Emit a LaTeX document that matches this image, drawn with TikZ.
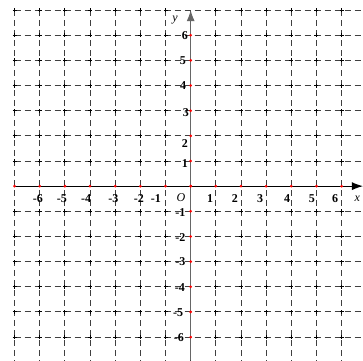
\documentclass[tikz,border=0pt]{standalone}
\usepackage{fontspec}
\setmainfont{Liberation Serif}
\usetikzlibrary{arrows.meta}
\begin{document}
\begin{tikzpicture}[x=25.15pt,y=25.15pt,
  gridline/.style={draw=black!75, line width=0.9pt, dash pattern=on 6pt off 4pt},
  crossmark/.style={draw=black, line width=0.9pt},
  lbl/.style={font=\fontsize{12}{13}\selectfont\bfseries, inner sep=0pt},
  axlbl/.style={font=\fontsize{12}{13}\selectfont\itshape, inner sep=0pt},
  reddot/.style={fill=red, draw=none},
  axisarrow/.style={-{Latex[length=11pt,width=8pt]}}]
\useasboundingbox (-7.58,-6.92) rectangle (6.85,7.40);
\fill[white] (-7.58,-6.92) rectangle (6.85,7.40);
% grid
\foreach \i in {-7,...,6} \draw[gridline] (\i,7) -- (\i,-6.92);
\foreach \j in {-6,...,7} \draw[gridline] (-7,\j) -- (6.85,\j);
% crosses at intersections
\foreach \i in {-7,...,-1,1,2,...,6}
  \foreach \j in {-6,...,-1,1,2,...,7}
    \draw[crossmark] ({\i-0.08},\j) -- ({\i+0.08},\j) (\i,{\j-0.08}) -- (\i,{\j+0.08});
% axes
\coordinate (xs) at (-7,0);
\coordinate (xe) at (6.85,0);
\coordinate (ys) at (0,-6.92);
\coordinate (ye) at (0,7.0);
\draw[axisarrow, black, line width=1.1pt] (xs) -- (xe);
\draw[axisarrow, black!60, line width=1.1pt] (ys) -- (ye);
% red dots
\foreach \i in {-7,...,6} \fill[reddot] (\i,0) circle (1.5pt);
\foreach \j in {-6,...,6} \fill[reddot] (0,\j) circle (1.5pt);
% x labels
\node[lbl] (xm6) at (-6.07,-0.48) {-6};
\node[lbl] (xm5) at (-5.12,-0.48) {-5};
\node[lbl] (xm4) at (-4.16,-0.48) {-4};
\node[lbl] (xm3) at (-3.07,-0.48) {-3};
\node[lbl] (xm2) at (-2.06,-0.48) {-2};
\node[lbl] (xm1) at (-1.38,-0.48) {-1};
\node[axlbl] (orig) at (-0.39,-0.46) {O};
\node[lbl] (xp1) at (0.77,-0.48) {1};
\node[lbl] (xp2) at (1.76,-0.48) {2};
\node[lbl] (xp3) at (2.76,-0.48) {3};
\node[lbl] (xp4) at (3.83,-0.48) {4};
\node[lbl] (xp5) at (4.82,-0.48) {5};
\node[lbl] (xp6) at (5.74,-0.48) {6};
\node[axlbl] (xname) at (6.62,-0.52) {x};
% y labels
\node[lbl] (yp6) at (-0.23,6.0) {6};
\node[lbl] (yp5) at (-0.31,4.97) {5};
\node[lbl] (yp4) at (-0.3,4.0) {4};
\node[lbl] (yp3) at (-0.19,2.94) {3};
\node[lbl] (yp2) at (-0.23,1.68) {2};
\node[lbl] (yp1) at (-0.23,0.91) {1};
\node[lbl] (ym1) at (-0.41,-1.03) {-1};
\node[lbl] (ym2) at (-0.41,-2.03) {-2};
\node[lbl] (ym3) at (-0.41,-2.98) {-3};
\node[lbl] (ym4) at (-0.43,-4.02) {-4};
\node[lbl] (ym5) at (-0.5,-5.01) {-5};
\node[lbl] (ym6) at (-0.47,-6.0) {-6};
\node[axlbl] (yname) at (-0.62,6.62) {y};
\end{tikzpicture}
\end{document}
